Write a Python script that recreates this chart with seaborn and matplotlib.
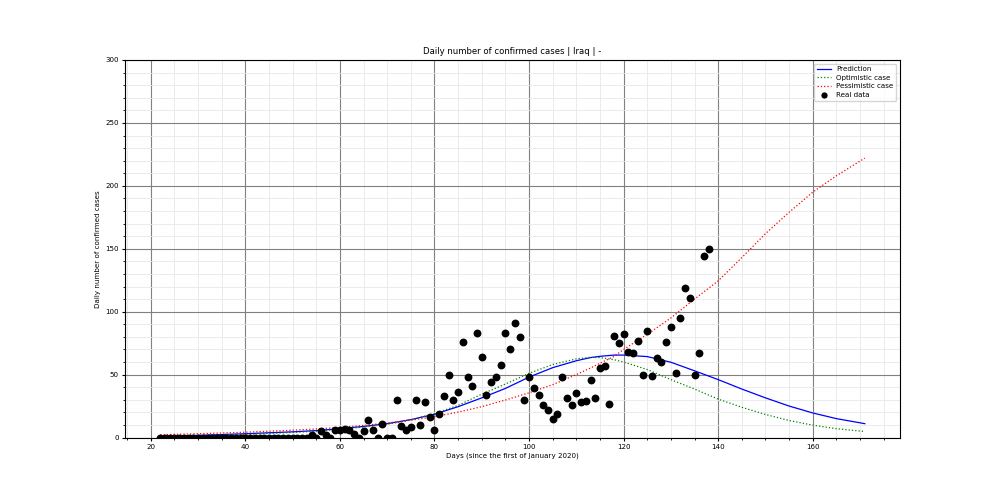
import numpy as np
import pandas as pd
import seaborn as sns
import matplotlib.pyplot as plt

# --- Gerçek veri (günlük vaka) ---
real_days = list(range(22, 139))
real_cases = [0] * 32 + [
    2, 0, 5, 2, 0, 6, 6, 7, 6, 3,          # 54-63
    0, 5, 14, 6, 0, 11, 0, 0, 30, 9,       # 64-73
    6, 8, 30, 10, 28, 16, 6, 19, 33, 50,   # 74-83
    30, 36, 76, 48, 41, 83, 64, 34, 44, 48,  # 84-93
    58, 83, 70, 91, 80, 30, 48, 39, 34, 26,  # 94-103
    22, 15, 19, 48, 31, 26, 35, 28, 29, 46,  # 104-113
    31, 55, 57, 27, 81, 75, 82, 68, 67, 77,  # 114-123
    50, 85, 49, 63, 60, 76, 88, 51, 95, 119,  # 124-133
    111, 50, 67, 144, 150,                    # 134-138
]

# --- Tahmin eğrileri ---
curve_days = [22, 30, 40, 50, 55, 60, 65, 70, 75, 80, 85, 90, 95, 100, 105,
              110, 113, 115, 118, 120, 125, 130, 135, 140, 145, 150, 155,
              160, 165, 171]
prediction = [1.0, 1.7, 3.0, 4.5, 5.5, 7.0, 8.8, 11.0, 14.2, 18.5, 24.5, 31.5,
              39.0, 48.0, 55.5, 61.0, 63.5, 64.5, 65.5, 65.5, 64.3, 59.8,
              53.0, 46.0, 38.5, 31.5, 25.0, 19.5, 15.0, 11.0]
optimistic = [0.5, 1.2, 2.5, 4.0, 5.0, 6.5, 8.3, 10.5, 14.0, 19.0, 25.5, 34.5,
              42.5, 51.0, 58.0, 62.5, 63.7, 63.5, 61.8, 60.0, 54.0, 46.0,
              38.5, 30.5, 24.0, 18.3, 13.5, 9.8, 7.0, 4.8]
pessimistic = [2.2, 3.0, 4.2, 5.8, 6.8, 8.0, 9.6, 11.5, 13.8, 16.5, 20.2, 24.5,
               29.8, 35.5, 42.0, 50.0, 55.3, 59.0, 64.5, 70.0, 82.0, 95.0,
               110.0, 124.5, 143.0, 162.0, 179.0, 195.0, 208.0, 222.0]

curves = pd.DataFrame({
    "day": curve_days,
    "Prediction": prediction,
    "Optimistic case": optimistic,
    "Pessimistic case": pessimistic,
})
real = pd.DataFrame({"day": real_days, "cases": real_cases})

plt.rcParams["font.size"] = 5.1

# --- Grafik ---
fig, ax = plt.subplots(figsize=(10, 5), dpi=100)
fig.subplots_adjust(left=0.125, right=0.9, top=0.88, bottom=0.125)

sns.lineplot(data=curves, x="day", y="Prediction", color="blue", lw=0.9,
             label="Prediction", ax=ax)
sns.lineplot(data=curves, x="day", y="Optimistic case", color="green", lw=0.9,
             linestyle=":", label="Optimistic case", ax=ax)
sns.lineplot(data=curves, x="day", y="Pessimistic case", color="red", lw=0.9,
             linestyle=":", label="Pessimistic case", ax=ax)
sns.scatterplot(data=real, x="day", y="cases", color="black", s=32,
                edgecolor="black", linewidth=0, label="Real data", ax=ax,
                zorder=3)

ax.set_ylim(0, 300)
ax.set_yticks(range(0, 301, 50))
ax.minorticks_on()
ax.tick_params(which="major", length=2.5, pad=2)
ax.tick_params(which="minor", length=1.5)
ax.grid(which="major", color="grey", linewidth=0.8)
ax.grid(which="minor", color="#e8e8e8", linewidth=0.6)
ax.set_axisbelow(True)

ax.set_title("Daily number of confirmed cases | Iraq | -", pad=4)
ax.set_xlabel("Days (since the first of January 2020)", labelpad=2)
ax.set_ylabel("Daily number of confirmed cases", labelpad=3)
ax.legend(loc="upper right", labelspacing=0.35, markerscale=0.8)

plt.savefig("out.png")
